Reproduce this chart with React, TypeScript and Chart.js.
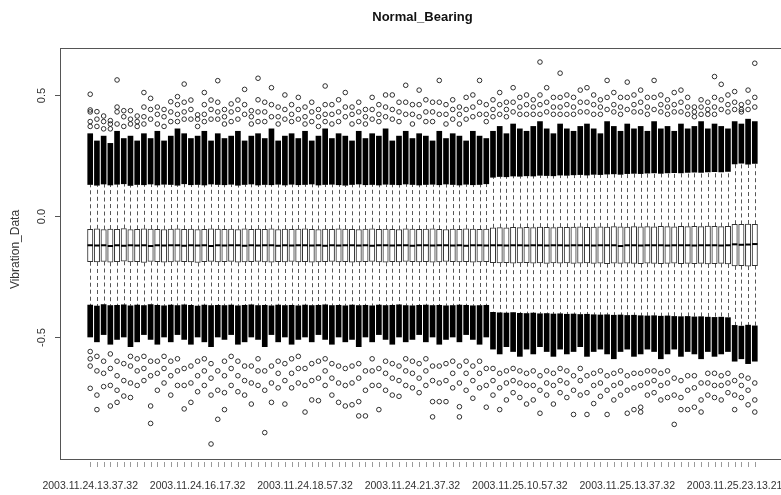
import React, { useEffect, useRef } from 'react';
import { Chart, registerables } from 'chart.js';

Chart.register(...registerables);

const FONT = '"Liberation Sans", Arial, Helvetica, sans-serif';

// categories: one box per recording (100 files)
const boxIndex: number[] = Array.from({ length: 100 }, (_, i) => i);

const xTickLabels = [
  '2003.11.24.13.37.32',
  '2003.11.24.16.17.32',
  '2003.11.24.18.57.32',
  '2003.11.24.21.37.32',
  '2003.11.25.10.57.32',
  '2003.11.25.13.37.32',
  '2003.11.25.23.13.21',
];
const xTickLabelIndex = [0, 16, 32, 48, 64, 80, 96];

const yTicks = [-0.5, 0, 0.5];
const yTickLabels = ['-0.5', '0.0', '0.5'];

const q3 = [
  -0.055, -0.053, -0.056, -0.054, -0.055, -0.052, -0.056, -0.055, -0.053, -0.054,
  -0.055, -0.056, -0.054, -0.053, -0.055, -0.054, -0.056, -0.055, -0.053, -0.054,
  -0.055, -0.054, -0.056, -0.053, -0.055, -0.054, -0.055, -0.053, -0.056, -0.054,
  -0.055, -0.054, -0.053, -0.055, -0.056, -0.054, -0.055, -0.053, -0.054, -0.055,
  -0.056, -0.054, -0.053, -0.055, -0.054, -0.055, -0.056, -0.053, -0.054, -0.055,
  -0.054, -0.053, -0.055, -0.056, -0.054, -0.055, -0.053, -0.054, -0.055, -0.054,
  -0.049, -0.048, -0.049, -0.047, -0.048, -0.047, -0.048, -0.046, -0.047, -0.048,
  -0.046, -0.047, -0.046, -0.045, -0.047, -0.046, -0.045, -0.046, -0.044, -0.045,
  -0.046, -0.044, -0.045, -0.044, -0.045, -0.043, -0.044, -0.045, -0.043, -0.044,
  -0.043, -0.044, -0.042, -0.043, -0.044, -0.043, -0.034, -0.035, -0.033, -0.034,
];

const q1 = [
  -0.189, -0.190, -0.188, -0.191, -0.189, -0.187, -0.190, -0.189, -0.192, -0.188,
  -0.189, -0.191, -0.190, -0.188, -0.189, -0.190, -0.192, -0.189, -0.188, -0.190,
  -0.189, -0.188, -0.191, -0.190, -0.189, -0.188, -0.190, -0.191, -0.189, -0.190,
  -0.188, -0.190, -0.189, -0.191, -0.190, -0.189, -0.188, -0.190, -0.189, -0.191,
  -0.190, -0.189, -0.188, -0.190, -0.191, -0.189, -0.190, -0.188, -0.189, -0.190,
  -0.189, -0.191, -0.190, -0.188, -0.189, -0.190, -0.189, -0.191, -0.190, -0.189,
  -0.193, -0.194, -0.193, -0.195, -0.194, -0.193, -0.195, -0.194, -0.196, -0.194,
  -0.195, -0.194, -0.196, -0.195, -0.194, -0.196, -0.195, -0.197, -0.195, -0.196,
  -0.195, -0.196, -0.197, -0.195, -0.196, -0.197, -0.196, -0.195, -0.197, -0.196,
  -0.197, -0.196, -0.198, -0.197, -0.196, -0.198, -0.206, -0.205, -0.207, -0.205,
];

const median = [
  -0.121, -0.122, -0.121, -0.124, -0.121, -0.123, -0.121, -0.122, -0.121, -0.124,
  -0.121, -0.122, -0.121, -0.121, -0.123, -0.121, -0.122, -0.121, -0.124, -0.121,
  -0.122, -0.121, -0.121, -0.123, -0.121, -0.122, -0.121, -0.121, -0.123, -0.121,
  -0.122, -0.121, -0.121, -0.122, -0.121, -0.123, -0.121, -0.122, -0.121, -0.121,
  -0.122, -0.121, -0.123, -0.121, -0.121, -0.122, -0.121, -0.121, -0.123, -0.121,
  -0.121, -0.122, -0.121, -0.121, -0.122, -0.121, -0.123, -0.121, -0.121, -0.122,
  -0.121, -0.121, -0.122, -0.121, -0.121, -0.122, -0.121, -0.121, -0.122, -0.121,
  -0.121, -0.122, -0.121, -0.121, -0.121, -0.122, -0.121, -0.121, -0.121, -0.124,
  -0.121, -0.121, -0.122, -0.121, -0.121, -0.121, -0.122, -0.121, -0.121, -0.121,
  -0.122, -0.121, -0.121, -0.121, -0.122, -0.121, -0.117, -0.119, -0.118, -0.116,
];

const whiskerHigh = [
  0.130, 0.127, 0.132, 0.128, 0.131, 0.133, 0.126, 0.130, 0.129, 0.132,
  0.128, 0.131, 0.130, 0.127, 0.133, 0.129, 0.130, 0.128, 0.132, 0.130,
  0.129, 0.131, 0.127, 0.130, 0.132, 0.128, 0.130, 0.129, 0.131, 0.128,
  0.131, 0.129, 0.130, 0.132, 0.128, 0.130, 0.131, 0.129, 0.127, 0.130,
  0.132, 0.129, 0.130, 0.128, 0.131, 0.130, 0.129, 0.132, 0.130, 0.128,
  0.130, 0.131, 0.129, 0.132, 0.130, 0.128, 0.131, 0.129, 0.130, 0.133,
  0.160, 0.163, 0.162, 0.165, 0.164, 0.166, 0.165, 0.168, 0.167, 0.166,
  0.169, 0.168, 0.170, 0.171, 0.169, 0.172, 0.171, 0.173, 0.174, 0.172,
  0.175, 0.176, 0.175, 0.177, 0.178, 0.176, 0.178, 0.179, 0.178, 0.180,
  0.181, 0.180, 0.182, 0.183, 0.182, 0.184, 0.215, 0.218, 0.214, 0.217,
];

const whiskerLow = [
  -0.368, -0.372, -0.366, -0.370, -0.369, -0.367, -0.371, -0.368, -0.370, -0.366,
  -0.369, -0.371, -0.368, -0.370, -0.367, -0.369, -0.372, -0.368, -0.370, -0.369,
  -0.370, -0.368, -0.371, -0.369, -0.367, -0.370, -0.369, -0.371, -0.368, -0.370,
  -0.369, -0.371, -0.368, -0.370, -0.369, -0.367, -0.370, -0.369, -0.371, -0.368,
  -0.370, -0.369, -0.371, -0.368, -0.370, -0.369, -0.367, -0.370, -0.371, -0.369,
  -0.368, -0.370, -0.369, -0.371, -0.370, -0.368, -0.369, -0.371, -0.370, -0.369,
  -0.398, -0.400, -0.401, -0.399, -0.402, -0.403, -0.401, -0.404, -0.403, -0.405,
  -0.404, -0.406, -0.405, -0.407, -0.406, -0.408, -0.409, -0.408, -0.410, -0.409,
  -0.411, -0.410, -0.412, -0.413, -0.412, -0.414, -0.413, -0.415, -0.416, -0.415,
  -0.417, -0.416, -0.418, -0.419, -0.418, -0.420, -0.452, -0.455, -0.451, -0.454,
];

// extent of the densely packed (overlapping) outlier circles
const denseHigh = [
  0.34, 0.31, 0.33, 0.30, 0.35, 0.32, 0.33, 0.31, 0.34, 0.32,
  0.35, 0.31, 0.33, 0.36, 0.34, 0.32, 0.33, 0.35, 0.31, 0.34,
  0.32, 0.33, 0.35, 0.31, 0.33, 0.34, 0.32, 0.36, 0.31, 0.33,
  0.34, 0.32, 0.35, 0.31, 0.33, 0.36, 0.32, 0.34, 0.33, 0.31,
  0.35, 0.32, 0.34, 0.33, 0.36, 0.31, 0.33, 0.35, 0.32, 0.34,
  0.33, 0.31, 0.35, 0.32, 0.34, 0.33, 0.31, 0.35, 0.33, 0.32,
  0.35, 0.37, 0.34, 0.38, 0.36, 0.35, 0.37, 0.39, 0.36, 0.34,
  0.38, 0.36, 0.35, 0.37, 0.38, 0.36, 0.34, 0.39, 0.37, 0.35,
  0.38, 0.36, 0.37, 0.35, 0.39, 0.36, 0.37, 0.35, 0.38, 0.36,
  0.37, 0.39, 0.36, 0.38, 0.37, 0.36, 0.39, 0.38, 0.40, 0.39,
];

const denseLow = [
  -0.50, -0.52, -0.49, -0.53, -0.51, -0.50, -0.54, -0.52, -0.49, -0.51,
  -0.53, -0.50, -0.52, -0.49, -0.51, -0.53, -0.50, -0.52, -0.54, -0.50,
  -0.51, -0.49, -0.53, -0.52, -0.50, -0.51, -0.54, -0.49, -0.52, -0.50,
  -0.53, -0.51, -0.50, -0.52, -0.49, -0.51, -0.53, -0.50, -0.52, -0.51,
  -0.54, -0.50, -0.52, -0.49, -0.51, -0.53, -0.50, -0.52, -0.51, -0.49,
  -0.52, -0.50, -0.53, -0.51, -0.50, -0.52, -0.49, -0.51, -0.53, -0.50,
  -0.55, -0.57, -0.54, -0.56, -0.58, -0.55, -0.57, -0.54, -0.56, -0.58,
  -0.55, -0.57, -0.56, -0.54, -0.58, -0.56, -0.55, -0.57, -0.59, -0.56,
  -0.55, -0.58, -0.57, -0.55, -0.56, -0.59, -0.57, -0.55, -0.58, -0.56,
  -0.57, -0.59, -0.56, -0.58, -0.57, -0.56, -0.60, -0.59, -0.61, -0.60,
];

// individual (isolated) outliers
const outlierHigh: number[][] = [
  [0.503, 0.438, 0.43, 0.39, 0.37], [0.431, 0.40, 0.37], [0.413, 0.39, 0.36], [0.394, 0.38, 0.36], [0.562, 0.45, 0.43, 0.38],
  [0.435, 0.41, 0.37], [0.435, 0.40, 0.38], [0.413, 0.39, 0.37], [0.51, 0.45, 0.41, 0.38], [0.486, 0.44, 0.40],
  [0.45, 0.42, 0.38], [0.44, 0.41, 0.37], [0.472, 0.43, 0.39], [0.493, 0.46, 0.42, 0.39], [0.545, 0.47, 0.43, 0.40],
  [0.479, 0.44, 0.40], [0.418, 0.40, 0.37], [0.51, 0.46, 0.42, 0.39], [0.479, 0.44, 0.40], [0.559, 0.47, 0.43, 0.40],
  [0.44, 0.41, 0.38], [0.463, 0.43, 0.39], [0.479, 0.44, 0.40], [0.523, 0.46, 0.42], [0.435, 0.41, 0.38],
  [0.569, 0.48, 0.43, 0.39], [0.47, 0.43, 0.39], [0.53, 0.46, 0.41], [0.45, 0.41, 0.38], [0.50, 0.44, 0.40],
  [0.46, 0.42, 0.39], [0.49, 0.44, 0.40], [0.45, 0.41, 0.38], [0.47, 0.43, 0.39], [0.44, 0.41, 0.37],
  [0.537, 0.46, 0.42, 0.39], [0.46, 0.42, 0.38], [0.48, 0.43, 0.39], [0.51, 0.45, 0.41], [0.45, 0.42, 0.38],
  [0.47, 0.43, 0.39], [0.44, 0.41, 0.38], [0.49, 0.44, 0.40], [0.46, 0.42, 0.39], [0.50, 0.45, 0.41],
  [0.50, 0.44, 0.40], [0.47, 0.43, 0.39], [0.54, 0.47, 0.42], [0.46, 0.42, 0.38], [0.52, 0.46, 0.41],
  [0.48, 0.43, 0.39], [0.47, 0.43, 0.39], [0.56, 0.47, 0.42], [0.46, 0.42, 0.38], [0.48, 0.44, 0.40],
  [0.45, 0.42, 0.38], [0.49, 0.44, 0.40], [0.50, 0.45, 0.41], [0.56, 0.47, 0.42], [0.46, 0.42, 0.39],
  [0.48, 0.44, 0.41], [0.51, 0.46, 0.42], [0.47, 0.44, 0.41], [0.53, 0.47, 0.43], [0.49, 0.45, 0.42],
  [0.50, 0.46, 0.42], [0.48, 0.45, 0.42], [0.636, 0.50, 0.46, 0.42], [0.53, 0.47, 0.43], [0.49, 0.45, 0.42],
  [0.59, 0.49, 0.45, 0.42], [0.50, 0.46, 0.42], [0.49, 0.45, 0.42], [0.52, 0.47, 0.43], [0.53, 0.47, 0.43],
  [0.50, 0.46, 0.42], [0.48, 0.45, 0.42], [0.56, 0.49, 0.44], [0.51, 0.46, 0.43], [0.49, 0.45, 0.42],
  [0.553, 0.49, 0.44], [0.50, 0.46, 0.43], [0.52, 0.47, 0.43], [0.49, 0.45, 0.42], [0.56, 0.49, 0.44],
  [0.50, 0.46, 0.43], [0.48, 0.45, 0.42], [0.51, 0.46, 0.43], [0.52, 0.47, 0.43], [0.49, 0.45, 0.42],
  [0.45, 0.43, 0.41], [0.48, 0.45, 0.42], [0.47, 0.44, 0.42], [0.576, 0.49, 0.45, 0.42], [0.544, 0.48, 0.44],
  [0.50, 0.46, 0.43], [0.514, 0.47, 0.44], [0.44, 0.46, 0.43], [0.52, 0.47, 0.44], [0.631, 0.49, 0.45],
];

const outlierLow: number[][] = [
  [-0.712, -0.62, -0.59, -0.56], [-0.80, -0.74, -0.64, -0.58], [-0.705, -0.65, -0.60], [-0.785, -0.70, -0.63, -0.57], [-0.77, -0.72, -0.66, -0.60],
  [-0.744, -0.68, -0.61], [-0.75, -0.69, -0.62, -0.58], [-0.70, -0.64, -0.59], [-0.68, -0.63, -0.58], [-0.857, -0.785, -0.66, -0.60],
  [-0.72, -0.65, -0.60], [-0.69, -0.63, -0.58], [-0.74, -0.66, -0.60], [-0.70, -0.64, -0.59], [-0.797, -0.70, -0.63],
  [-0.77, -0.69, -0.62], [-0.726, -0.66, -0.60], [-0.70, -0.64, -0.59], [-0.942, -0.74, -0.67, -0.61], [-0.84, -0.72, -0.64],
  [-0.80, -0.73, -0.66, -0.60], [-0.70, -0.63, -0.58], [-0.726, -0.66, -0.60], [-0.74, -0.68, -0.62], [-0.777, -0.69, -0.62],
  [-0.70, -0.64, -0.59], [-0.895, -0.72, -0.64], [-0.77, -0.69, -0.62], [-0.71, -0.65, -0.60], [-0.777, -0.68, -0.61],
  [-0.71, -0.65, -0.59], [-0.69, -0.63, -0.58], [-0.81, -0.70, -0.63], [-0.76, -0.68, -0.61], [-0.763, -0.67, -0.60],
  [-0.70, -0.64, -0.59], [-0.74, -0.67, -0.61], [-0.77, -0.69, -0.62], [-0.785, -0.70, -0.63], [-0.78, -0.69, -0.62],
  [-0.826, -0.767, -0.67, -0.61], [-0.826, -0.72, -0.64], [-0.70, -0.64, -0.59], [-0.80, -0.70, -0.63], [-0.72, -0.65, -0.60],
  [-0.74, -0.67, -0.61], [-0.745, -0.68, -0.62], [-0.70, -0.64, -0.59], [-0.71, -0.65, -0.60], [-0.73, -0.67, -0.61],
  [-0.70, -0.64, -0.59], [-0.83, -0.767, -0.68, -0.62], [-0.767, -0.69, -0.62], [-0.767, -0.68, -0.61], [-0.71, -0.65, -0.60],
  [-0.83, -0.788, -0.69, -0.62], [-0.72, -0.65, -0.60], [-0.753, -0.68, -0.62], [-0.71, -0.65, -0.60], [-0.79, -0.70, -0.63],
  [-0.74, -0.68, -0.63], [-0.80, -0.71, -0.65], [-0.76, -0.69, -0.64], [-0.73, -0.68, -0.63], [-0.75, -0.69, -0.64],
  [-0.777, -0.70, -0.65], [-0.76, -0.70, -0.64], [-0.815, -0.72, -0.66], [-0.74, -0.69, -0.64], [-0.777, -0.70, -0.65],
  [-0.73, -0.68, -0.63], [-0.75, -0.69, -0.64], [-0.82, -0.72, -0.66], [-0.74, -0.68, -0.63], [-0.82, -0.73, -0.66],
  [-0.775, -0.70, -0.65], [-0.745, -0.69, -0.64], [-0.82, -0.72, -0.66], [-0.76, -0.70, -0.65], [-0.74, -0.69, -0.64],
  [-0.815, -0.72, -0.66], [-0.80, -0.71, -0.65], [-0.79, -0.81, -0.70, -0.65], [-0.74, -0.69, -0.64], [-0.73, -0.68, -0.64],
  [-0.76, -0.70, -0.65], [-0.75, -0.69, -0.64], [-0.861, -0.74, -0.67], [-0.80, -0.75, -0.68], [-0.80, -0.72, -0.66],
  [-0.79, -0.71, -0.66], [-0.81, -0.76, -0.69], [-0.74, -0.69, -0.65], [-0.75, -0.70, -0.65], [-0.76, -0.70, -0.66],
  [-0.73, -0.69, -0.65], [-0.80, -0.74, -0.68], [-0.75, -0.70, -0.66], [-0.78, -0.72, -0.67], [-0.81, -0.76, -0.69],
];

const Y_MIN = -1.004;
const Y_MAX = 0.694;
const X_MIN = -4.5;
const X_MAX = 103.5;
const BOX_W = 5.4;

const rBoxplotPlugin = {
  id: 'rBoxplot',
  beforeDatasetsDraw(chart: any) {
    const { ctx, scales } = chart;
    const xs = scales.x;
    const ys = scales.y;
    ctx.save();
    ctx.strokeStyle = '#555';
    ctx.lineWidth = 1;
    ctx.setLineDash([4, 3]);
    boxIndex.forEach((i) => {
      const px = Math.round(xs.getPixelForValue(i)) + 0.5;
      ctx.beginPath();
      ctx.moveTo(px, ys.getPixelForValue(q3[i]));
      ctx.lineTo(px, ys.getPixelForValue(whiskerHigh[i]));
      ctx.moveTo(px, ys.getPixelForValue(q1[i]));
      ctx.lineTo(px, ys.getPixelForValue(whiskerLow[i]));
      ctx.stroke();
    });
    ctx.restore();
  },
  afterDatasetsDraw(chart: any) {
    const { ctx, scales, chartArea } = chart;
    const xs = scales.x;
    const ys = scales.y;
    ctx.save();
    // medians
    ctx.strokeStyle = '#000';
    ctx.lineWidth = 2;
    boxIndex.forEach((i) => {
      const px = xs.getPixelForValue(i);
      const py = ys.getPixelForValue(median[i]);
      ctx.beginPath();
      ctx.moveTo(px - BOX_W / 2, py);
      ctx.lineTo(px + BOX_W / 2, py);
      ctx.stroke();
    });
    // frame
    ctx.strokeStyle = '#555';
    ctx.lineWidth = 1;
    ctx.strokeRect(
      Math.round(chartArea.left) + 0.5,
      Math.round(chartArea.top) + 0.5,
      Math.round(chartArea.right - chartArea.left),
      Math.round(chartArea.bottom - chartArea.top)
    );
    // x tick marks
    ctx.strokeStyle = '#999';
    boxIndex.forEach((i) => {
      const px = Math.round(xs.getPixelForValue(i)) + 0.5;
      ctx.beginPath();
      ctx.moveTo(px, chartArea.bottom + 3);
      ctx.lineTo(px, chartArea.bottom + 8);
      ctx.stroke();
    });
    // y tick marks and labels
    ctx.strokeStyle = '#555';
    ctx.fillStyle = '#333';
    ctx.font = `11px ${FONT}`;
    ctx.textAlign = 'center';
    ctx.textBaseline = 'middle';
    yTicks.forEach((v, k) => {
      const py = Math.round(ys.getPixelForValue(v)) + 0.5;
      ctx.beginPath();
      ctx.moveTo(chartArea.left - 5, py);
      ctx.lineTo(chartArea.left, py);
      ctx.stroke();
      ctx.save();
      ctx.translate(chartArea.left - 18, py);
      ctx.rotate(-Math.PI / 2);
      ctx.fillText(yTickLabels[k], 0, 0);
      ctx.restore();
    });
    // y axis title
    ctx.font = `12px ${FONT}`;
    ctx.save();
    ctx.translate(16, (chartArea.top + chartArea.bottom) / 2 - 4);
    ctx.rotate(-Math.PI / 2);
    ctx.fillText('Vibration_Data', 0, 0);
    ctx.restore();
    ctx.restore();
  },
};

export default function App() {
  const canvasRef = useRef<HTMLCanvasElement | null>(null);

  useEffect(() => {
    if (!canvasRef.current) return;
    const boxData = boxIndex.map((i) => ({ x: i, y: [q1[i], q3[i]] }));
    const denseUpData = boxIndex.map((i) => ({ x: i, y: [whiskerHigh[i], denseHigh[i]] }));
    const denseLowData = boxIndex.map((i) => ({ x: i, y: [denseLow[i], whiskerLow[i]] }));
    const outlierPoints = boxIndex.flatMap((i) =>
      [...outlierHigh[i], ...outlierLow[i]].map((v) => ({ x: i, y: v }))
    );

    const chart = new Chart(canvasRef.current, {
      type: 'bar',
      data: {
        datasets: [
          {
            type: 'scatter',
            label: 'outliers',
            data: outlierPoints,
            pointStyle: 'circle',
            pointRadius: 2.3,
            pointBorderWidth: 0.9,
            pointBorderColor: '#1a1a1a',
            pointBackgroundColor: 'rgba(0,0,0,0)',
            showLine: false,
          } as any,
          {
            label: 'box',
            data: boxData as any,
            backgroundColor: '#ffffff',
            borderColor: '#333',
            borderWidth: 1,
            borderSkipped: false,
            barThickness: BOX_W,
            grouped: false,
          } as any,
          {
            label: 'denseUp',
            data: denseUpData as any,
            backgroundColor: '#000',
            borderWidth: 0,
            barThickness: 5,
            grouped: false,
          } as any,
          {
            label: 'denseLow',
            data: denseLowData as any,
            backgroundColor: '#000',
            borderWidth: 0,
            barThickness: 5,
            grouped: false,
          } as any,
        ],
      },
      options: {
        animation: false,
        responsive: false,
        maintainAspectRatio: false,
        layout: { padding: { left: 0, right: 15, top: 0, bottom: 0 } },
        plugins: {
          legend: { display: false },
          tooltip: { enabled: false },
          title: {
            display: true,
            text: 'Normal_Bearing',
            fullSize: false,
            color: '#111',
            font: { family: FONT, size: 13, weight: 'bold' },
            padding: { top: 10, bottom: 22.4 },
          },
        },
        scales: {
          x: {
            type: 'linear',
            min: X_MIN,
            max: X_MAX,
            offset: false,
            grid: { display: false, offset: false, drawOnChartArea: false },
            border: { display: false },
            afterBuildTicks: (s: any) => {
              s.ticks = boxIndex.map((v) => ({ value: v }));
            },
            afterFit: (s: any) => {
              s.height = 36;
              s.paddingLeft = 0;
              s.paddingRight = 0;
            },
            ticks: {
              autoSkip: false,
              maxRotation: 0,
              minRotation: 0,
              padding: 13,
              color: '#333',
              font: { family: FONT, size: 10.5 },
              callback: (value: any) => {
                const k = xTickLabelIndex.indexOf(Number(value));
                return k >= 0 ? xTickLabels[k] : '';
              },
            },
          },
          y: {
            type: 'linear',
            min: Y_MIN,
            max: Y_MAX,
            grid: { display: false, drawOnChartArea: false },
            border: { display: false },
            afterBuildTicks: (s: any) => {
              s.ticks = yTicks.map((v) => ({ value: v }));
            },
            afterFit: (s: any) => {
              s.width = 60;
              s.paddingTop = 0;
              s.paddingBottom = 0;
            },
            ticks: { display: false },
          },
        },
      } as any,
      plugins: [rBoxplotPlugin],
    });
    return () => chart.destroy();
  }, []);

  return (
    <div
      style={{
        position: 'fixed',
        left: 0,
        top: 0,
        width: 781,
        height: 495,
        overflow: 'hidden',
        background: '#fff',
      }}
    >
      <canvas ref={canvasRef} width={800} height={495} style={{ display: 'block' }} />
    </div>
  );
}
